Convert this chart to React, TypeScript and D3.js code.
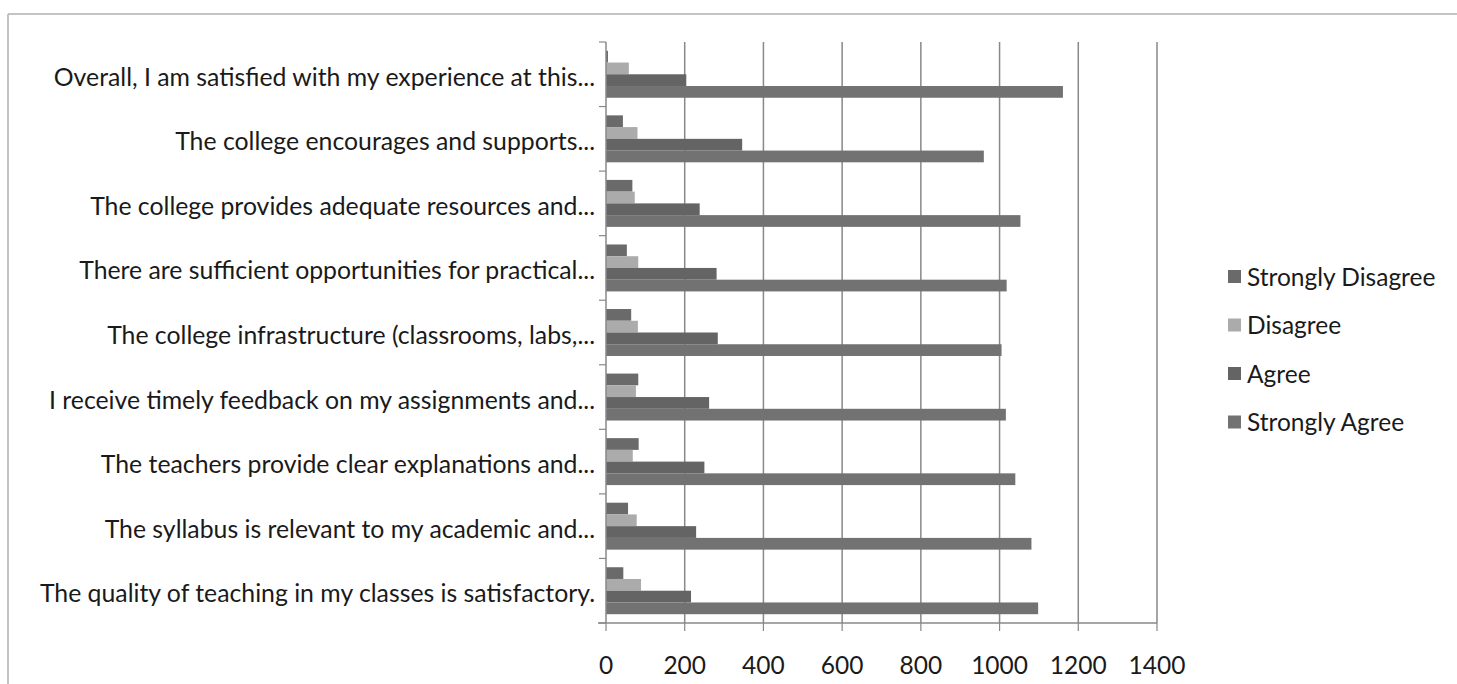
import React from "react";
import * as d3 from "d3";

const categories = [
  "Overall, I am satisfied with my experience at this...",
  "The college encourages and supports...",
  "The college provides adequate resources and...",
  "There are sufficient opportunities for practical...",
  "The college infrastructure (classrooms, labs,...",
  "I receive timely feedback on my assignments and...",
  "The teachers provide clear explanations and...",
  "The syllabus is relevant to my academic and...",
  "The quality of teaching in my classes is satisfactory.",
];

const seriesNames = ["Strongly Disagree", "Disagree", "Agree", "Strongly Agree"];
const stronglyDisagree = [5, 43, 67, 53, 64, 82, 83, 56, 44];
const disagree = [58, 80, 73, 82, 81, 76, 68, 78, 89];
const agree = [204, 346, 238, 281, 284, 262, 250, 229, 216];
const stronglyAgree = [1161, 960, 1053, 1018, 1005, 1016, 1040, 1081, 1098];
const xTicks = [0, 200, 400, 600, 800, 1000, 1200, 1400];

const seriesValues = [stronglyDisagree, disagree, agree, stronglyAgree];
const seriesColors = ["#6a6a6a", "#ababab", "#646464", "#727272"];

const W = 1457;
const H = 684;
const FONT = "Lato, 'Open Sans', sans-serif";

export default function App() {
  const left = 606;
  const right = 1157;
  const top = 42;
  const bottom = 623;

  const x = d3.scaleLinear().domain([0, 1400]).range([left, right]);
  const y = d3
    .scaleBand<string>()
    .domain(categories)
    .range([top, bottom])
    .paddingInner(0.2727)
    .paddingOuter(0.1364);
  const inner = d3
    .scaleBand<number>()
    .domain(d3.range(seriesNames.length))
    .range([0, y.bandwidth()]);

  const boundaries = d3.range(categories.length + 1).map((i) => top + i * y.step());

  return (
    <div style={{ position: "absolute", left: 0, top: 0 }}>
      <svg width={W} height={H} style={{ display: "block", background: "#fff" }}>
        {/* outer chart border */}
        <line x1={8} x2={W} y1={14} y2={14} stroke="#b0b0b0" strokeWidth={1.5} />
        <line x1={8} x2={8} y1={14} y2={H} stroke="#b0b0b0" strokeWidth={1.5} />

        {/* gridlines */}
        {xTicks.slice(1).map((t) => (
          <line key={"g" + t} x1={x(t)} x2={x(t)} y1={top} y2={bottom} stroke="#888888" strokeWidth={1.5} />
        ))}

        {/* bars */}
        {categories.map((c, ci) => (
          <g key={c} transform={`translate(0,${y(c)})`}>
            {seriesValues.map((vals, si) => (
              <rect
                key={si}
                x={x(0)}
                y={inner(si)}
                width={x(vals[ci]) - x(0)}
                height={inner.bandwidth()}
                fill={seriesColors[si]}
              />
            ))}
          </g>
        ))}

        {/* y axis */}
        <line x1={left} x2={left} y1={top} y2={bottom} stroke="#888888" strokeWidth={1.5} />
        {boundaries.map((b, i) => (
          <line key={"yt" + i} x1={left - 7} x2={left} y1={b} y2={b} stroke="#888888" strokeWidth={1.2} />
        ))}
        {categories.map((c) => (
          <text
            key={"l" + c}
            x={595}
            y={(y(c) as number) + y.bandwidth() / 2 + 2}
            textAnchor="end"
            dominantBaseline="central"
            fontFamily={FONT}
            fontSize={24.8}
            fill="#1a1a1a"
          >
            {c}
          </text>
        ))}

        {/* x axis */}
        <line x1={598} x2={right} y1={bottom} y2={bottom} stroke="#888888" strokeWidth={1.5} />
        {xTicks.map((t) => (
          <g key={"xt" + t}>
            <line x1={x(t)} x2={x(t)} y1={bottom} y2={bottom + 8} stroke="#888888" strokeWidth={1.2} />
            <text
              x={x(t)}
              y={664}
              textAnchor="middle"
              dominantBaseline="central"
              fontFamily={FONT}
              fontSize={24.5}
              fill="#1a1a1a"
            >
              {t}
            </text>
          </g>
        ))}

        {/* legend */}
        {seriesNames.map((s, i) => {
          const cy = 276 + i * 48.5;
          return (
            <g key={"lg" + s}>
              <rect x={1228} y={cy - 6} width={13} height={13} fill={seriesColors[i]} />
              <text
                x={1247}
                y={cy}
                dominantBaseline="central"
                fontFamily={FONT}
                fontSize={24.5}
                fill="#1a1a1a"
              >
                {s}
              </text>
            </g>
          );
        })}
      </svg>
    </div>
  );
}
